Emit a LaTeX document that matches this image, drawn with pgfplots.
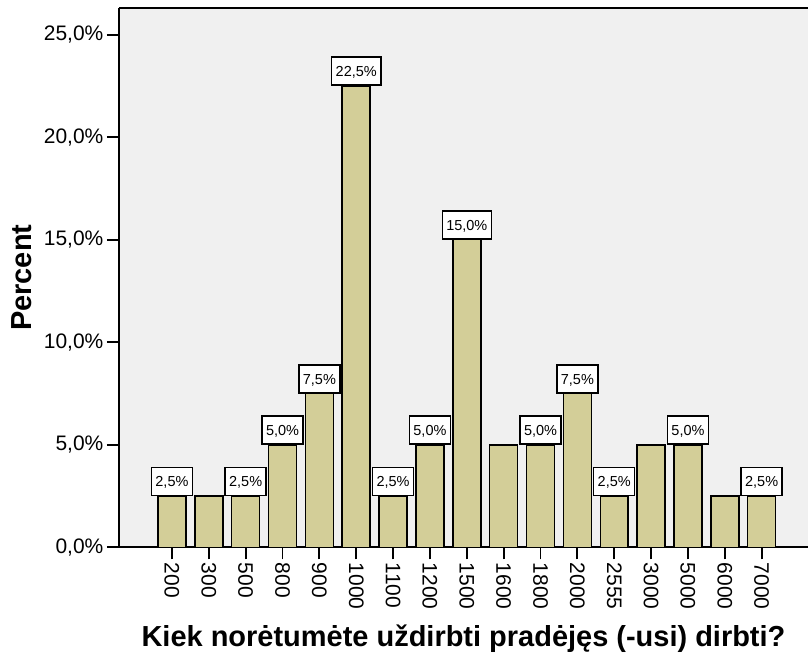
\documentclass[border=0pt]{standalone}
\usepackage{fontspec}
\setmainfont{Liberation Sans}
\usepackage{pgfplots}
\pgfplotsset{compat=1.18}
\definecolor{barfill}{RGB}{211,206,152}
\definecolor{plotbg}{RGB}{240,240,240}
\begin{document}
\begin{tikzpicture}
\begin{axis}[
  scale only axis,
  width=690pt, height=540pt,
  xmin=-1.44, xmax=17.26,
  ymin=0, ymax=26.3,
  axis x line*=bottom, axis y line*=left,
  axis line style={line width=1.8pt, -},
  axis background/.style={fill=plotbg},
  tick align=outside,
  major tick length=12pt,
  tick style={line width=1.8pt, black},
  xtick={0,...,16},
  xticklabels={200,300,500,800,900,1000,1100,1200,1500,1600,1800,2000,2555,3000,5000,6000,7000},
  x tick label style={rotate=-90, anchor=west, font=\fontsize{21}{21}\selectfont},
  ytick={0,5,10,15,20,25},
  yticklabels={{0,0\%},{5,0\%},{10,0\%},{15,0\%},{20,0\%},{25,0\%}},
  y tick label style={font=\fontsize{21}{21}\selectfont},
  ylabel={\textbf{Percent}},
  ylabel style={at={(axis description cs:-0.1406,0.5)}, anchor=center, font=\fontsize{29}{29}\selectfont},
  xlabel={\textbf{Kiek norėtumėte uždirbti pradėjęs (-usi) dirbti?}},
  xlabel style={at={(axis description cs:0.5,-0.1685)}, anchor=center, font=\fontsize{29}{29}\selectfont},
  /pgf/number format/assume math mode=true,
]
\addplot[ybar, bar width=28pt, bar shift=0pt, fill=barfill, draw=black, line width=1.5pt]
  coordinates {(0,2.5)(1,2.5)(2,2.5)(3,5)(4,7.5)(5,22.5)(6,2.5)(7,5)(8,15)(9,5)(10,5)(11,7.5)(12,2.5)(13,5)(14,5)(15,2.5)(16,2.5)};
\addplot[draw=none, mark=none,
  nodes near coords={\pgfmathprintnumber[fixed, fixed zerofill, precision=1, use comma]{\pgfplotspointmeta}\%},
  every node near coord/.style={anchor=south, fill=white, draw=black, line width=1.5pt,
    font=\fontsize{14.5}{14.5}\selectfont, inner xsep=4pt, inner ysep=0pt, text height=10.5pt, text depth=0pt, minimum height=28pt}]
  coordinates {(0,2.5)(2,2.5)(3,5)(4,7.5)(5,22.5)(6,2.5)(7,5)(8,15)(10,5)(11,7.5)(12,2.5)(14,5)(16,2.5)};
\draw[line width=1.8pt] (rel axis cs:0,1) -- (rel axis cs:1,1);
\path (rel axis cs:0,0) ++(-119pt,-110pt) coordinate (bl);
\path (rel axis cs:1,1) ++(0pt,8pt) coordinate (tr);
\end{axis}
\path (bl) rectangle (tr);
\end{tikzpicture}
\end{document}
